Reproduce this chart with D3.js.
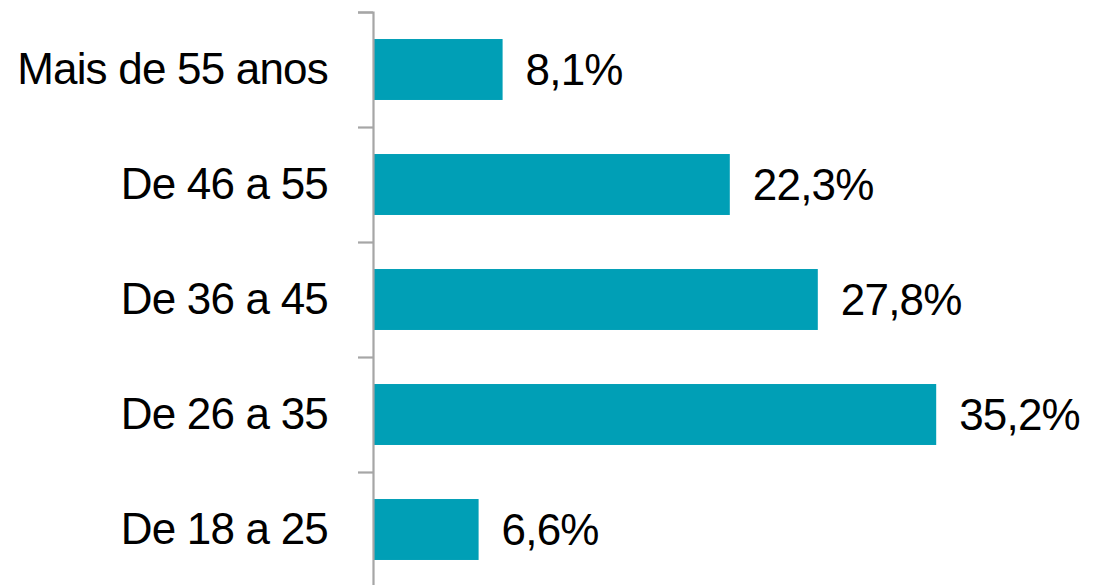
<!DOCTYPE html>
<html><head><meta charset="utf-8">
<script src="https://cdn.jsdelivr.net/npm/d3@7"></script>
<style>
html,body{margin:0;padding:0;background:#fff;}
svg{display:block;}
text{font-family:"Liberation Sans",Arial,sans-serif;}
</style></head>
<body><svg id="c" width="1093" height="585"></svg>
<script>
const categories = ["Mais de 55 anos","De 46 a 55","De 36 a 45","De 26 a 35","De 18 a 25"];
const values = [8.1, 22.3, 27.8, 35.2, 6.6];
const valueLabels = ["8,1%","22,3%","27,8%","35,2%","6,6%"];

const svg = d3.select("#c");
const axisX = 373, plotTop = 12, plotBottom = 587;
const y = d3.scaleBand().domain(categories).range([plotTop, plotBottom]).paddingInner(0.47).paddingOuter(0.235);
const x = d3.scaleLinear().domain([0, 40]).range([axisX, axisX + 640]);
const bounds = d3.scaleLinear().domain([0, categories.length]).range([plotBottom, plotTop]);

const data = categories.map((c,i)=>({c, v: values[i], l: valueLabels[i]}));

svg.selectAll("rect.bar").data(data).join("rect")
  .attr("class","bar")
  .attr("x", x(0))
  .attr("y", d=>y(d.c))
  .attr("width", d=>x(d.v)-x(0))
  .attr("height", y.bandwidth())
  .attr("fill", "#009fb6");

// axis line + tick marks at category boundaries
const gTicks = svg.append("g").attr("transform",`translate(${axisX},0)`)
  .call(d3.axisLeft(bounds).tickValues(d3.range(0, categories.length+1)).tickSize(15).tickFormat(""));
gTicks.select(".domain").attr("stroke","#a6a6a6").attr("stroke-width",2.2);
gTicks.selectAll(".tick line").attr("stroke","#a6a6a6").attr("stroke-width",2.2);

// category labels
const gLab = svg.append("g").attr("transform",`translate(${axisX},0)`)
  .call(d3.axisLeft(y).tickSize(0).tickPadding(45));
gLab.select(".domain").remove();
gLab.selectAll(".tick text").attr("font-size",44).attr("fill","#000")
  .attr("font-family","'Liberation Sans',Arial,sans-serif").attr("letter-spacing",-0.8);

// value labels
svg.selectAll("text.val").data(data).join("text")
  .attr("class","val")
  .attr("x", d=>x(d.v)+23)
  .attr("y", d=>y(d.c)+y.bandwidth()/2+15.5)
  .attr("font-size",44).attr("letter-spacing",-0.8)
  .attr("fill","#000")
  .text(d=>d.l);
</script></body></html>
